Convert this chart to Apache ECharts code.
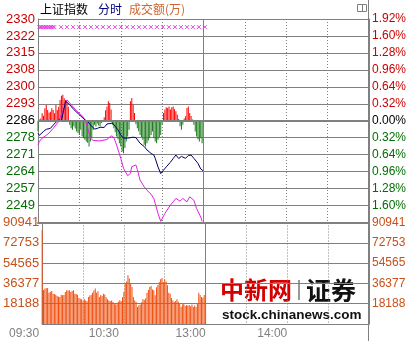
<!DOCTYPE html>
<html><head><meta charset="utf-8">
<script src="https://cdn.jsdelivr.net/npm/echarts/dist/echarts.min.js"></script>
<style>html,body{margin:0;padding:0;background:#fff}#c{width:414px;height:341px}</style>
</head><body><div id="c"></div>
<script>
// ---------- data ----------
const prevClose = 2286.2;
const titleParts = ['上证指数', '分时', '成交额(万)'];
const priceLabels = ['2330','2322','2315','2308','2300','2293','2286','2278','2271','2264','2257','2249'];
const pctLabels = ['1.92%','1.60%','1.28%','0.96%','0.64%','0.32%','0.00%','0.32%','0.64%','0.96%','1.28%','1.60%'];
const volMax = 90941;
const volLabels = ['', '18188', '36377', '54565', '72753', '90941'];
const timeLabels = ['09:30', '', '10:30', '', '13:00', '', '14:00', '', ''];

// index (weighted) line: minute, value
const idxMinutes = [0,1,4,6,9,11,13,15,17,20,23,26,30,34,36,38,41,43,45,48,50,54,56,58,60,62,65,67,69,71,74,77,79,82,84,85,87,89,91,93,96,98,100,102,104,107,109,111,113,116,118,120];
const idxValues  = [2280.8,2279.9,2281.6,2282.5,2282.9,2284.3,2285.6,2286.5,2286.3,2294.6,2293.1,2291.0,2288.8,2286.6,2285.9,2284.4,2282.6,2282.9,2283.4,2283.3,2284.8,2285.2,2283.8,2282.3,2280.1,2278.7,2278.7,2278.9,2279.1,2278.9,2276.5,2275.1,2273.6,2272.1,2271.4,2270.0,2266.3,2263.4,2264.9,2266.3,2268.3,2269.9,2271.4,2269.9,2270.8,2270.0,2271.2,2271.4,2270.0,2267.8,2265.4,2264.5];

// unweighted line: minute, value
const avgMinutes = [0,1,3,6,8,11,13,15,16,21,24,28,30,33,35,38,40,45,50,53,55,57,60,62,65,67,68,71,72,74,77,79,82,84,85,87,89,92,96,98,100,103,105,108,110,113,115,118,119];
const avgValues  = [2275.7,2277.3,2278.7,2279.9,2280.9,2282.9,2284.4,2285.9,2285.8,2295.2,2293.2,2290.4,2289.5,2287.7,2285.2,2278.7,2277.7,2277.5,2278.1,2279.7,2279.0,2275.7,2270.0,2265.7,2262.5,2263.5,2266.4,2267.1,2265.2,2260.6,2257.7,2256.2,2254.5,2252.6,2250.5,2246.2,2242.8,2246.2,2249.8,2251.2,2252.7,2251.5,2252.7,2251.2,2253.4,2251.9,2248.3,2244.7,2242.8];

// red/green power bars (index points, one per minute)
const powerValues = [
 -4.5, 0.5, 1.0, 3.2, 2.2, 5.4, 6.8, 4.6, 3.4, 3.9,
 5.4, 4.6, 3.2, 6.8, 4.6, 6.0, 9.0, 10.8, 11.2, 9.7,
 9.0, 8.2, 6.0, -1.7, -3.2, -3.9, -2.4, -3.3, -4.6, -5.3,
 -6.1, -3.9, -6.8, -7.5, -8.2, -8.9, -9.5, -11.1, -8.9, -7.5,
 -4.0, -1.7, -2.5, -1.2, -2.0, -2.4, -1.0, -0.5, 1.5, 4.5,
 6.2, 8.4, 7.7, 4.8, -1.7, -3.2, -5.0, -6.8, -8.0, -9.7,
 -11.1, -13.3, -14.0, -11.8, -8.9, -6.8, -3.9, 8.4, 9.8, 6.9,
 3.3, -1.5, -3.2, -4.5, -6.1, -7.0, -8.2, -10.4, -11.1, -9.7,
 -8.5, -7.5, -6.1, -4.6, -7.5, -8.9, -9.7, -8.2, -7.0, -6.1,
 -1.7, 3.3, 4.8, 5.8, 5.5, 6.2, 4.8, 5.8, 6.2, 5.0,
 4.1, 2.6, 0.8, -2.4, -3.9, -1.7, 1.0, 1.9, 5.5, 6.2,
 3.3, 2.0, 0.5, -1.7, -4.6, -6.8, -8.0, -8.9, -7.5, -9.7,
 -8.9];

// turnover per minute (万)
const volumeValues = [
 84000, 30500, 31700, 32000, 32300, 28100, 29000, 29600, 27200, 26800,
 26300, 25100, 24500, 24200, 26300, 25800, 26000, 28700, 30300, 30000,
 30300, 28700, 29500, 30300, 27200, 26800, 26300, 23300, 22700, 22200,
 20400, 22200, 21000, 20400, 24200, 25500, 26300, 28100, 30000, 31700,
 28100, 29300, 24200, 26000, 25000, 27200, 26500, 24000, 22200, 21000,
 20400, 21000, 19800, 18500, 17400, 19000, 20000, 21300, 20500, 24000,
 28700, 36200, 38000, 43700, 40700, 36000, 33200, 24200, 21000, 19800,
 15300, 16800, 17500, 19500, 22200, 21500, 23000, 28100, 30500, 33200,
 34100, 31000, 30300, 25800, 33000, 35000, 37700, 40000, 41300, 37700,
 40100, 38000, 34700, 28000, 27200, 23300, 21000, 19800, 20500, 22200,
 20000, 18200, 15300, 17500, 18200, 16300, 16800, 16500, 17000, 16000,
 17400, 15300, 16500, 15300, 18200, 28100, 26000, 24200, 23500, 26000,
 33000];

// magenta × markers along the top
const markMinutes = [1,2.2,3.4,4.6,5.8,7,8.2,9.4,10.6,11.8,16.7,21.0,25.4,29.7,34.1,38.4,42.8,47.1,51.4,55.8,60.1,64.5,68.8,73.2,77.5,81.9,86.2,90.6,94.9,99.3,103.6,108.0,112.3,116.7,121.0];
const markLevel = 2326.6;

// ---------- chart ----------
const stepPts = prevClose * 0.0032;
const toStep = v => (v - prevClose) / stepPts;
const GRID = '#808080';
const RED = '#cc0000', GREEN = '#006e00', ORANGE = '#c8501a';
const LFONT = 'Liberation Sans, Arial, sans-serif';
const CJK = '"Noto Sans CJK SC", sans-serif';
const volStep = volMax / 5;
const priceColor = v => { const k = Math.round(6 - Number(v)); return k < 6 ? RED : (k === 6 ? '#000000' : GREEN); };
const timeRich = ['p3', '', 'p5', '', 'p0', '', 'p0', '', ''];

const chart = echarts.init(document.getElementById('c'), null, {renderer: 'canvas', width: 414, height: 341});

const dotted = {show: true, lineStyle: {color: GRID, width: 1, type: [1, 2]}};
const option = {
  animation: false,
  backgroundColor: '#ffffff',
  grid: [
    {left: 38, top: 19, width: 331, height: 203.5, containLabel: false},
    {left: 38, top: 222.5, width: 331, height: 101.5, containLabel: false}
  ],
  xAxis: [
    {gridIndex: 0, type: 'value', min: 0, max: 240, interval: 30,
     axisLine: {show: true, onZero: false, lineStyle: {color: GRID, width: 2}},
     axisTick: {show: false}, axisLabel: {show: false}, splitLine: dotted},
    {gridIndex: 1, type: 'value', min: 0, max: 240, interval: 30,
     axisLine: {show: true, onZero: false, lineStyle: {color: GRID, width: 1}},
     axisTick: {show: false}, splitLine: dotted,
     axisLabel: {show: true, showMinLabel: true, showMaxLabel: true, margin: 4, align: 'right',
       color: GRID, fontSize: 12, fontFamily: LFONT,
       rich: {p0: {padding: [0, 0, 0, 0], color: GRID, fontSize: 12, fontFamily: LFONT},
              p3: {padding: [0, 3, 0, 0], color: GRID, fontSize: 12, fontFamily: LFONT},
              p5: {padding: [0, 5, 0, 0], color: GRID, fontSize: 12, fontFamily: LFONT}},
       formatter: v => { const k = Math.round(v / 30); const t = timeLabels[k] || ''; return t ? '{' + timeRich[k] + '|' + t + '}' : ''; }}}
  ],
  yAxis: [
    {gridIndex: 0, type: 'value', position: 'left', min: -6, max: 6, interval: 1,
     axisLine: {show: true, lineStyle: {color: GRID}}, axisTick: {show: false},
     splitLine: {show: true, lineStyle: {color: GRID, width: 1}},
     axisLabel: {show: true, showMinLabel: true, showMaxLabel: true, margin: 3, fontSize: 13, fontFamily: LFONT,
       color: priceColor,
       formatter: v => { const k = Math.round(6 - v); return k < 12 ? priceLabels[k] : ''; }}},
    {gridIndex: 0, type: 'value', position: 'right', min: -6, max: 6, interval: 1,
     axisLine: {show: true, lineStyle: {color: GRID}}, axisTick: {show: false}, splitLine: {show: false},
     axisLabel: {show: true, showMinLabel: true, showMaxLabel: true, margin: 3, fontSize: 12, fontFamily: LFONT,
       color: priceColor,
       formatter: v => { const k = Math.round(6 - v); return k < 12 ? pctLabels[k] : ''; }}},
    {gridIndex: 1, type: 'value', position: 'left', min: 0, max: volMax, interval: volStep,
     axisLine: {show: true, lineStyle: {color: GRID}}, axisTick: {show: false},
     splitLine: {show: true, lineStyle: {color: GRID, width: 1}},
     axisLabel: {show: true, showMinLabel: true, showMaxLabel: true, margin: 3, fontSize: 13, fontFamily: LFONT, color: ORANGE,
       formatter: v => volLabels[Math.round(v / volStep)] || ''}},
    {gridIndex: 1, type: 'value', position: 'right', min: 0, max: volMax, interval: volStep,
     axisLine: {show: true, lineStyle: {color: GRID}}, axisTick: {show: false}, splitLine: {show: false},
     axisLabel: {show: true, showMinLabel: true, showMaxLabel: true, margin: 3, fontSize: 12, fontFamily: LFONT, color: ORANGE,
       formatter: v => volLabels[Math.round(v / volStep)] || ''}}
  ],
  series: [
    {type: 'bar', xAxisIndex: 0, yAxisIndex: 0, barWidth: 1, silent: true,
     data: powerValues.map((v, i) => ({value: [i, v / stepPts], itemStyle: {color: v >= 0 ? '#ff0000' : '#1a7a1a'}})),
     markLine: {silent: true, symbol: 'none', label: {show: false},
       data: [{yAxis: 0, lineStyle: {color: GRID, width: 2, type: 'solid'}},
              {xAxis: 120, lineStyle: {color: GRID, width: 1, type: 'solid'}}]}},
    {type: 'line', xAxisIndex: 0, yAxisIndex: 0, symbol: 'none', silent: true,
     lineStyle: {color: '#e020e0', width: 1},
     data: avgMinutes.map((m, i) => [m, toStep(avgValues[i])])},
    {type: 'line', xAxisIndex: 0, yAxisIndex: 0, symbol: 'none', silent: true,
     lineStyle: {color: '#000066', width: 1},
     data: idxMinutes.map((m, i) => [m, toStep(idxValues[i])])},
    {type: 'scatter', xAxisIndex: 0, yAxisIndex: 0, silent: true,
     symbol: 'path://M0,0L4,4M4,0L0,4', symbolSize: 4,
     itemStyle: {color: 'rgba(0,0,0,0)', borderColor: '#e020e0', borderWidth: 1},
     data: markMinutes.map(m => [m, toStep(markLevel)])},
    {type: 'bar', xAxisIndex: 1, yAxisIndex: 2, barWidth: 1, silent: true,
     itemStyle: {color: '#f05010'},
     data: volumeValues.map((v, i) => [i, v]),
     markLine: {silent: true, symbol: 'none', label: {show: false},
       data: [{xAxis: 120, lineStyle: {color: GRID, width: 1, type: 'solid'}}]}}
  ],
  graphic: [
    {type: 'text', x: 40, y: 9, style: {text: titleParts[0], font: '12px ' + CJK, fill: '#000000', verticalAlign: 'middle'}},
    {type: 'text', x: 98, y: 9, style: {text: titleParts[1], font: '12px ' + CJK, fill: '#000080', verticalAlign: 'middle'}},
    {type: 'text', x: 129, y: 9, style: {text: titleParts[2], font: '12px ' + CJK, fill: '#cc6633', verticalAlign: 'middle'}},
    {type: 'rect', shape: {x: 357.5, y: 4.5, width: 9, height: 7}, style: {fill: '#ffffff', stroke: GRID, lineWidth: 1}},
    {type: 'line', shape: {x1: 362.5, y1: 4.5, x2: 362.5, y2: 11.5}, style: {stroke: GRID, lineWidth: 1}},
    {type: 'line', shape: {x1: 368.5, y1: 0, x2: 368.5, y2: 341}, style: {stroke: GRID, lineWidth: 1}},
    {type: 'text', x: 220, y: 290, style: {text: '中新网', font: 'bold 24px ' + CJK, fill: '#d40000', verticalAlign: 'middle'}},
    {type: 'rect', shape: {x: 298, y: 280, width: 2, height: 20}, style: {fill: '#999999'}},
    {type: 'text', x: 306, y: 290, style: {text: '证券', font: 'bold 25px ' + CJK, fill: '#111111', verticalAlign: 'middle'}},
    {type: 'text', x: 222, y: 315, style: {text: 'stock.chinanews.com', font: 'bold 13.5px ' + LFONT, fill: '#111111', verticalAlign: 'middle'}}
  ]
};
chart.setOption(option);
</script>
</body></html>
